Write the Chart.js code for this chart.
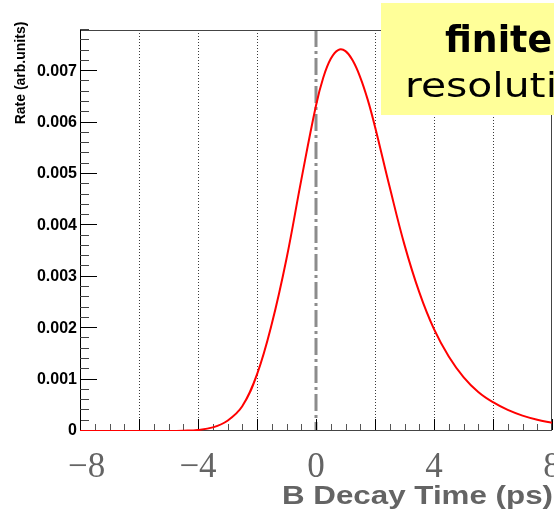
<!DOCTYPE html>
<html>
<head>
<meta charset="utf-8">
<script src="https://cdn.jsdelivr.net/npm/chart.js@4/dist/chart.umd.min.js"></script>
<style>
  html, body { margin: 0; padding: 0; background: #ffffff; overflow: hidden; }
  #wrap { position: relative; width: 554px; height: 515px; }
</style>
</head>
<body>
<div id="wrap"><canvas id="c" width="554" height="515"></canvas></div>
<script>
// ---- data ----
const decayTime = [-8, -7, -6, -5, -4.5, -4, -3.5, -3, -2.5, -2, -1.5, -1, -0.5, 0, 0.25, 0.5, 0.75, 1, 1.25, 1.5, 1.75, 2, 2.5, 3, 3.5, 4, 4.5, 5, 5.5, 6, 6.5, 7, 7.5, 8];
const rate      = [0, 0, 0, 0.000001, 0.000006, 0.00002, 0.00007, 0.0002, 0.00048, 0.0011, 0.00208, 0.00335, 0.00488, 0.00633, 0.00688, 0.00724, 0.00741, 0.00739, 0.0072, 0.00688, 0.00645, 0.00592, 0.00474, 0.00362, 0.0027, 0.00198, 0.00145, 0.00105, 0.00076, 0.00056, 0.00041, 0.0003, 0.00022, 0.00016];

const xTickValues = [-8, -4, 0, 4, 8];
const xTickLabels = ['\u22128', '\u22124', '0', '4', '8'];
const xGridValues = [-6, -4, -2, 2, 4, 6];
const yTickValues = [0, 0.001, 0.002, 0.003, 0.004, 0.005, 0.006, 0.007];
const yTickLabels = ['0', '0.001', '0.002', '0.003', '0.004', '0.005', '0.006', '0.007'];

const xTitle = 'B Decay Time (ps)';
const yTitle = 'Rate (arb.units)';
const boxLine1 = 'finite';
const boxLine2 = 'resolution';

function drawScaled(ctx, text, x, y, targetW, measureText) {
  const w = ctx.measureText(measureText || text).width;
  const sx = targetW ? targetW / w : 1;
  ctx.save();
  ctx.translate(x, y);
  ctx.scale(sx, 1);
  ctx.fillText(text, 0, 0);
  ctx.restore();
}

const decorations = {
  id: 'decorations',
  beforeDatasetsDraw(chart) {
    const ctx = chart.ctx;
    const xs = chart.scales.x;
    const a = chart.chartArea;
    ctx.save();
    // dotted vertical grid
    ctx.strokeStyle = '#3a3a3a';
    ctx.lineWidth = 1;
    ctx.setLineDash([1, 2]);
    xGridValues.forEach(v => {
      const px = Math.round(xs.getPixelForValue(v)) + 0.5;
      ctx.beginPath(); ctx.moveTo(px, a.top); ctx.lineTo(px, a.bottom); ctx.stroke();
    });
    // dash-dot line at zero
    ctx.strokeStyle = '#8c8c8c';
    ctx.lineWidth = 3;
    ctx.setLineDash([17, 4, 3, 4]);
    const p0 = xs.getPixelForValue(0);
    ctx.beginPath(); ctx.moveTo(p0, a.top); ctx.lineTo(p0, a.bottom); ctx.stroke();

    // frame
    ctx.setLineDash([]);
    ctx.lineWidth = 1;
    ctx.strokeStyle = '#444';
    ctx.beginPath();
    ctx.moveTo(a.left, a.top + 0.5); ctx.lineTo(a.right, a.top + 0.5);
    ctx.moveTo(a.right - 0.5, a.top); ctx.lineTo(a.right - 0.5, a.bottom);
    ctx.moveTo(a.left, a.bottom - 0.5); ctx.lineTo(a.right, a.bottom - 0.5);
    ctx.stroke();
    ctx.strokeStyle = '#000';
    ctx.beginPath();
    ctx.moveTo(a.left + 0.5, a.top); ctx.lineTo(a.left + 0.5, a.bottom);
    ctx.stroke();

    // y ticks
    for (let k = 0; k <= 39; k++) {
      const v = k * 0.0002;
      if (v > chart.scales.y.max + 1e-9) break;
      const py = Math.round(chart.scales.y.getPixelForValue(v)) - 0.5;
      const major = k % 5 === 0;
      ctx.strokeStyle = major ? '#000' : '#444';
      ctx.beginPath(); ctx.moveTo(a.left, py); ctx.lineTo(a.left + (major ? 17 : 9), py); ctx.stroke();
    }
    // x ticks
    for (let k = 0; k <= 32; k++) {
      const v = -8 + k * 0.5;
      const px = Math.round(xs.getPixelForValue(v)) + 0.5;
      const major = k % 4 === 0;
      ctx.strokeStyle = major ? '#000' : '#555';
      ctx.beginPath(); ctx.moveTo(px, a.bottom - 1); ctx.lineTo(px, a.bottom - (major ? 12 : 7)); ctx.stroke();
    }
    ctx.restore();
  },
  afterDraw(chart) {
    const ctx = chart.ctx;
    const xs = chart.scales.x, ys = chart.scales.y;
    const a = chart.chartArea;
    ctx.save();

    // y tick labels
    ctx.fillStyle = '#000';
    ctx.font = 'bold 16px "Liberation Sans", Arial, sans-serif';
    ctx.textAlign = 'right';
    ctx.textBaseline = 'middle';
    yTickValues.forEach((v, i) => {
      ctx.fillText(yTickLabels[i], a.left - 3, ys.getPixelForValue(v));
    });

    // x tick labels
    ctx.fillStyle = '#646464';
    ctx.font = '35px "Liberation Serif", "Times New Roman", serif';
    ctx.textAlign = 'left';
    ctx.textBaseline = 'alphabetic';
    xTickValues.forEach((v, i) => {
      const w = ctx.measureText(xTickLabels[i]).width;
      let left = xs.getPixelForValue(v) - w / 2;
      if (left < a.left - 12) left = a.left - 12;
      ctx.fillText(xTickLabels[i], left, 477);
    });

    // x title
    ctx.font = 'bold 26px "Liberation Sans", Arial, sans-serif';
    ctx.textAlign = 'left';
    drawScaled(ctx, xTitle, 282, 504, 271);

    // y title
    ctx.save();
    ctx.translate(21, 73);
    ctx.rotate(-Math.PI / 2);
    ctx.fillStyle = '#000';
    ctx.font = 'bold 14px "Liberation Sans", Arial, sans-serif';
    ctx.textAlign = 'center';
    ctx.textBaseline = 'middle';
    ctx.fillText(yTitle, 0, 0);
    ctx.restore();

    // yellow label box
    ctx.fillStyle = '#ffff99';
    ctx.fillRect(381, 3, 200, 112);
    ctx.fillStyle = '#000';
    ctx.textAlign = 'left';
    ctx.textBaseline = 'alphabetic';
    ctx.font = 'bold 38px "DejaVu Sans", sans-serif';
    drawScaled(ctx, boxLine1, 445, 52, 107);
    ctx.font = '33px "DejaVu Sans", sans-serif';
    drawScaled(ctx, boxLine2, 405, 97, 152, 'resoluti');

    ctx.restore();
  }
};

new Chart(document.getElementById('c'), {
  type: 'scatter',
  data: {
    datasets: [{
      data: decayTime.map((t, i) => ({ x: t, y: rate[i] })),
      showLine: true,
      borderColor: '#ff0000',
      borderWidth: 2,
      pointRadius: 0,
      fill: false,
      tension: 0.4
    }]
  },
  options: {
    responsive: false,
    animation: false,
    events: [],
    layout: { padding: { top: 30, right: 2, left: 0, bottom: 0 } },
    plugins: { legend: { display: false }, tooltip: { enabled: false } },
    scales: {
      x: {
        type: 'linear', min: -8, max: 8,
        ticks: { display: false },
        grid: { display: false },
        border: { display: false },
        afterFit: s => { s.height = 84; }
      },
      y: {
        type: 'linear', min: 0, max: 0.0078,
        ticks: { display: false },
        grid: { display: false },
        border: { display: false },
        afterFit: s => { s.width = 80; }
      }
    }
  },
  plugins: [decorations]
});
</script>
</body>
</html>
